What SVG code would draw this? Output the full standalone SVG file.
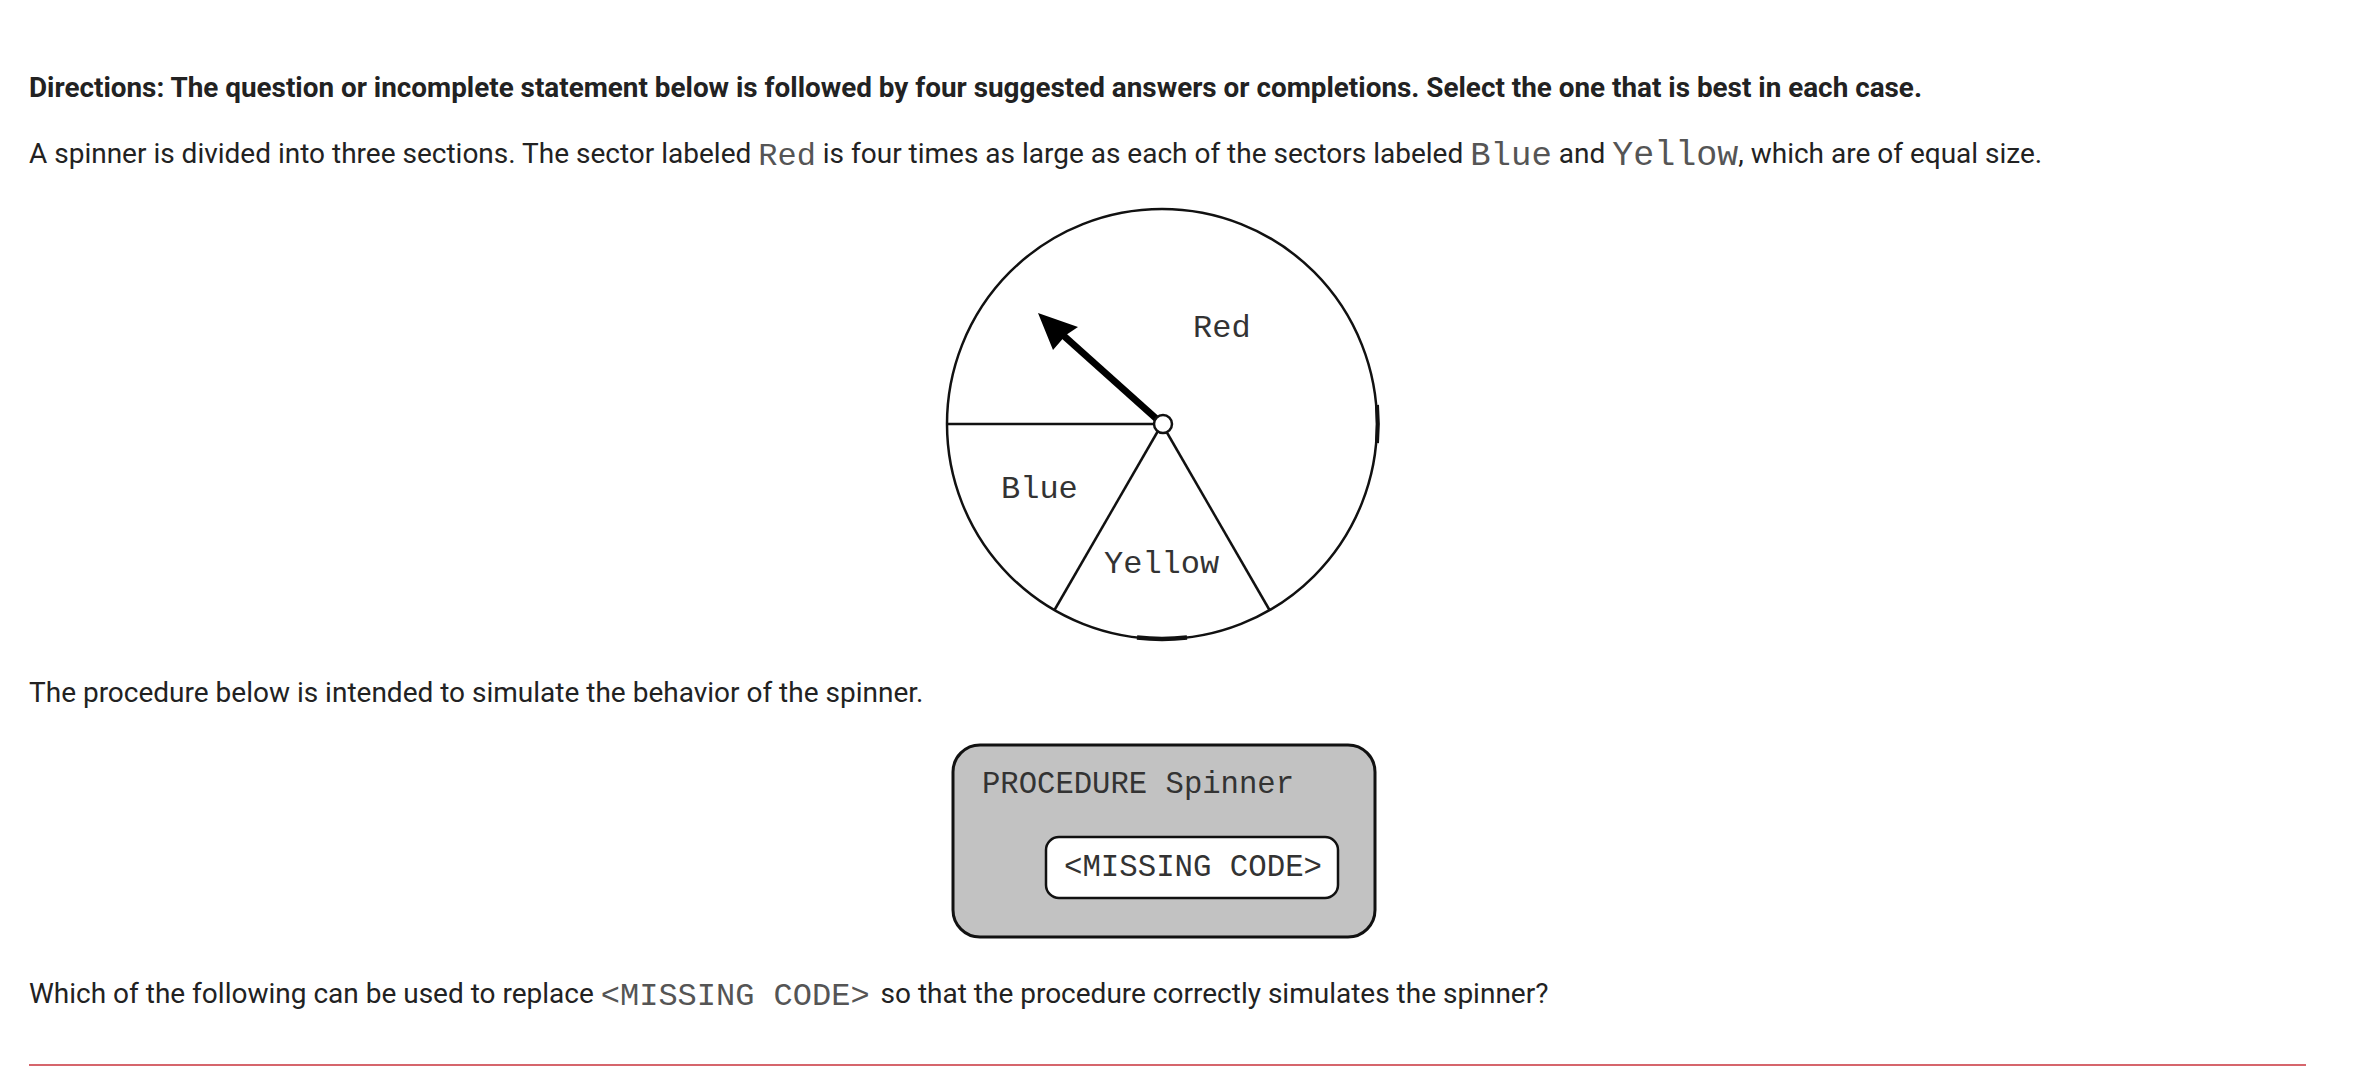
<svg xmlns="http://www.w3.org/2000/svg" width="2366" height="1066" viewBox="0 0 2366 1066">
<style>
.t{font-family:Roboto,"Liberation Sans",sans-serif;font-size:28px;fill:#222}
.b{font-weight:bold}
.c{font-family:"Liberation Mono","Courier New",monospace;fill:#555}
.lbl{font-family:"Liberation Mono","Courier New",monospace;font-size:32px;fill:#333}
.ln{stroke:#111;stroke-width:2.5;fill:none}
</style>
<rect width="2366" height="1066" fill="#fff"/>
<text class="t b" x="29" y="97" textLength="1893" lengthAdjust="spacingAndGlyphs">Directions: The question or incomplete statement below is followed by four suggested answers or completions. Select the one that is best in each case.</text>
<text class="t" x="29" y="163">A spinner is divided into three sections. The sector labeled <tspan class="c" font-size="32" dy="2">Red</tspan><tspan dy="-2"> is four times as large as each of the sectors labeled </tspan><tspan class="c" font-size="34" dy="2">Blue</tspan><tspan dy="-2"> and </tspan><tspan class="c" font-size="35" dy="2">Yellow</tspan><tspan dy="-2">, which are of equal size.</tspan></text>
<g id="spinner">
<circle class="ln" cx="1162" cy="424" r="215"/>
<path d="M1377,405 A215,215 0 0 1 1377,443" stroke="#111" stroke-width="4" fill="none"/>
<path d="M1137,637.5 A215,215 0 0 0 1187,637.5" stroke="#111" stroke-width="4.5" fill="none"/>
<line class="ln" x1="947" y1="424" x2="1162" y2="424"/>
<line class="ln" x1="1162" y1="424" x2="1054.5" y2="610"/>
<line class="ln" x1="1162" y1="424" x2="1269.5" y2="610"/>
<line x1="1160" y1="422" x2="1064" y2="336" stroke="#000" stroke-width="7"/>
<polygon points="1038,313 1078,327 1066,335 1053,350" fill="#000"/>
<circle cx="1163" cy="424" r="9" fill="#fff" stroke="#111" stroke-width="2.5"/>
<text class="lbl" x="1193" y="337">Red</text>
<text class="lbl" x="1001" y="498">Blue</text>
<text class="lbl" x="1104" y="573">Yellow</text>
</g>
<text class="t" x="29" y="702">The procedure below is intended to simulate the behavior of the spinner.</text>
<g id="procedure">
<rect x="953" y="745" width="422" height="192" rx="27" fill="#c2c2c2" stroke="#111" stroke-width="3"/>
<text class="lbl" x="982" y="793" font-size="30" textLength="312" lengthAdjust="spacingAndGlyphs">PROCEDURE Spinner</text>
<rect x="1046" y="837" width="292" height="61" rx="13" fill="#fff" stroke="#111" stroke-width="2.5"/>
<text class="lbl" x="1064" y="876" font-size="30" textLength="258" lengthAdjust="spacingAndGlyphs">&lt;MISSING CODE&gt;</text>
</g>
<text class="t" x="29" y="1003">Which of the following can be used to replace <tspan class="c" font-size="32" dy="2">&lt;MISSING CODE&gt;</tspan><tspan dy="-2" dx="4"> so that the procedure correctly simulates the spinner?</tspan></text>
<line x1="29" y1="1065" x2="2306" y2="1065" stroke="#d6656c" stroke-width="2"/>
</svg>
